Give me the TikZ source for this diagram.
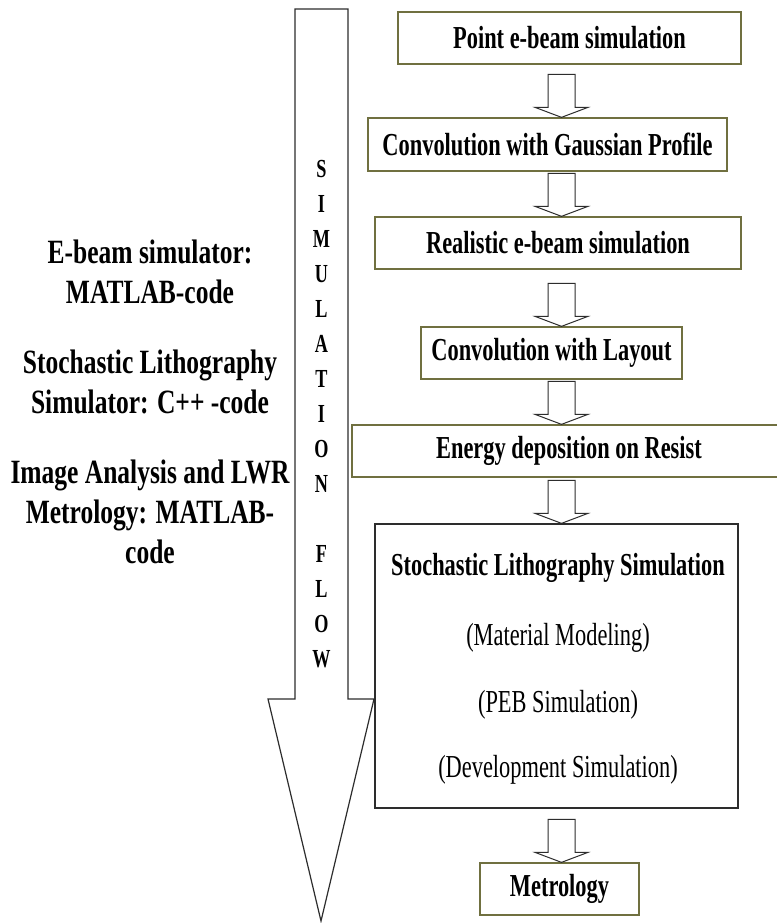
\documentclass[tikz,border=0pt]{standalone}
\usepackage{fontspec}
\setmainfont{Liberation Serif}[FakeStretch=0.7]
\newfontfamily\sideFont{Liberation Serif}[FakeStretch=0.75]
\usetikzlibrary{calc}
\definecolor{boxOlive}{RGB}{112,112,64}
\definecolor{lineGray}{RGB}{45,45,45}
\newcommand{\stepArrow}[1]{%
	\draw[stepArrowLine] ($(col |- #1.north)+(-13.5,-43)$) -- ($(col |- #1.north)+(13.5,-43)$) -- ($(col |- #1.north)+(13.5,-10)$) -- ($(col |- #1.north)+(26.5,-10)$) -- (col |- #1.north) -- ($(col |- #1.north)+(-26.5,-10)$) -- ($(col |- #1.north)+(-13.5,-10)$) -- cycle;}
\begin{document}
\begin{tikzpicture}[x=1pt, y=-1pt, text centered, line width=1.3pt,
	stepbox/.style={draw=boxOlive, inner sep=0pt, minimum height=52pt, font=\fontsize{32}{38}\selectfont\bfseries},
	stepArrowLine/.style={draw=lineGray, line width=1pt, fill=white},
	sideText/.style={align=center, inner sep=0pt, font=\sideFont\fontsize{34}{40}\selectfont\bfseries},
	subText/.style={inner sep=0pt, font=\fontsize{32}{38}\selectfont}]
	\useasboundingbox[fill=white] (0,0) rectangle (776,923);
	\coordinate (col) at (561.5,0);
	\draw[draw=lineGray, line width=1.2pt] (295,9) -- (348,9) -- (348,699) -- (374,699) -- (321,921) -- (268,699) -- (295,699) -- cycle;
	\node[align=center, inner sep=0pt, anchor=north, font=\fontsize{26}{35}\selectfont\bfseries] (flowText) at (321.5,160) {S\\I\\M\\U\\L\\A\\T\\I\\O\\N\\[35pt]F\\L\\O\\W};
	\node[sideText] (ebamText) at (150,272) {E-beam simulator:\\MATLAB-code};
	\node[sideText] (lithoText) at (150,382) {Stochastic Lithography\\Simulator: C++ -code};
	\node[sideText] (metroText) at (150,512) {Image Analysis and LWR\\Metrology: MATLAB-\\code};
	\node[stepbox, minimum width=343pt] (point) at (569.5,38) {Point e-beam simulation};
	\node[stepbox, minimum width=359pt, minimum height=53pt] (gauss) at (547.5,144.5) {Convolution with Gaussian Profile};
	\node[stepbox, minimum width=366pt] (realistic) at (558,243) {Realistic e-beam simulation};
	\node[stepbox, minimum width=261pt] (layout) at (551.5,353) {Convolution with Layout};
	\node[stepbox, minimum width=434pt] (energy) at (569,451) {Energy deposition on Resist};
	\node[draw=lineGray, minimum width=363pt, minimum height=284pt, inner sep=0pt] (litho) at (556.5,666) {};
	\node[subText, font=\fontsize{32}{38}\selectfont\bfseries] (lithoTitle) at (558,568) {Stochastic Lithography Simulation};
	\node[subText] (materialText) at (558,638) {(Material Modeling)};
	\node[subText] (pebText) at (558,705) {(PEB Simulation)};
	\node[subText] (devText) at (558,770) {(Development Simulation)};
	\node[stepbox, minimum width=159pt] (metrology) at (559.5,889) {Metrology};
	\stepArrow{gauss}
	\stepArrow{realistic}
	\stepArrow{layout}
	\stepArrow{energy}
	\stepArrow{litho}
	\stepArrow{metrology}
\end{tikzpicture}
\end{document}
